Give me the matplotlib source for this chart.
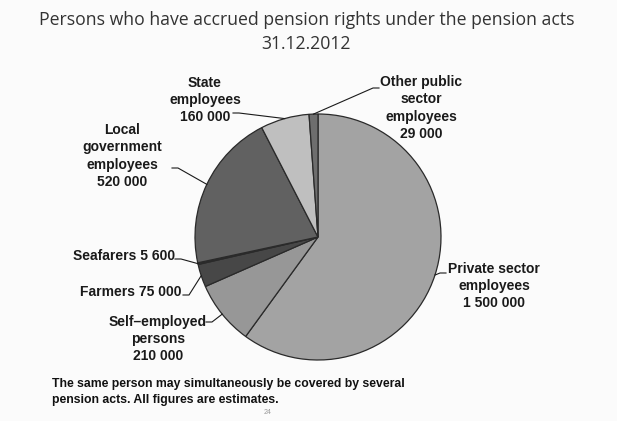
import numpy as np
import matplotlib
matplotlib.use("Agg")
import matplotlib.pyplot as plt

# Persons with accrued pension rights, 31.12.2012 (clockwise from 12 o'clock)
groups = ["Private sector\nemployees", "Self\u2013employed\npersons", "Farmers",
          "Seafarers", "Local\ngovernment\nemployees", "State\nemployees",
          "Other public\nsector\nemployees"]
persons = [1500000, 210000, 75000, 5600, 520000, 160000, 29000]
value_text = ["1 500 000", "210 000", "75 000", "5 600", "520 000", "160 000", "29 000"]
colors = ["#a3a3a3", "#979797", "#474747", "#2e2e2e", "#616161", "#bfbfbf", "#6e6e6e"]

W, H = 617, 421
fig = plt.figure(figsize=(W / 100, H / 100), dpi=100, facecolor="#fbfbfb")
ax = fig.add_axes([0, 0, 1, 1])

def py(y):
    # pixel row (from top) -> axes y
    return H - y

cx, cy, r = 318, py(237), 123
ax.pie(persons, colors=colors, startangle=90, counterclock=False,
       center=(cx, cy), radius=r, frame=True,
       wedgeprops=dict(edgecolor="#2a2a2a", linewidth=0.9))
ax.set_xlim(0, W)
ax.set_ylim(0, H)
ax.set_aspect("equal")
ax.axis("off")

# mid-angle of each wedge, for the leader lines
frac = np.array(persons) / sum(persons)
mid = 90 - 360 * (np.cumsum(frac) - frac / 2)

# label text position (x, y from top) and leader start point
layout = [
    (494, 286, (446, 273)),
    (158, 339, (206, 322)),
    (131, 292, (183, 295)),
    (124, 256, (175, 259)),
    (122, 156, (172, 168)),
    (205, 100, (233, 113)),
    (421, 108, (379, 88)),
]

lbl = dict(fontsize=10, fontweight="bold", family="Liberation Sans",
           color="#1a1a1a", linespacing=1.3)
for i, (tx, ty, (lx, ly)) in enumerate(layout):
    if groups[i] in ("Farmers", "Seafarers"):
        text = groups[i] + " " + value_text[i]
    else:
        text = groups[i] + "\n" + value_text[i]
    ax.text(tx, py(ty), text, ha="center", va="center", **lbl)
    ex = cx + r * np.cos(np.radians(mid[i]))
    ey = cy + r * np.sin(np.radians(mid[i]))
    kink = lx + (-6 if lx > cx else 6)
    ax.plot([lx, kink, ex], [py(ly), py(ly), ey], color="#1a1a1a", lw=0.8)

ax.text(W / 2 - 2, py(32), "Persons who have accrued pension rights under the pension acts\n31.12.2012",
        ha="center", va="center", fontsize=12.7, family="Open Sans",
        color="#333333", linespacing=1.47)

ax.text(52, py(392), "The same person may simultaneously be covered by several\npension acts. All figures are estimates.",
        ha="left", va="center", fontsize=8.8, fontweight="bold",
        family="Liberation Sans", color="#111111", linespacing=1.48)
ax.text(268, py(412), "24", ha="center", va="center", fontsize=5,
        family="Liberation Sans", color="#999999")

fig.savefig("out.png", dpi=100, facecolor=fig.get_facecolor())
